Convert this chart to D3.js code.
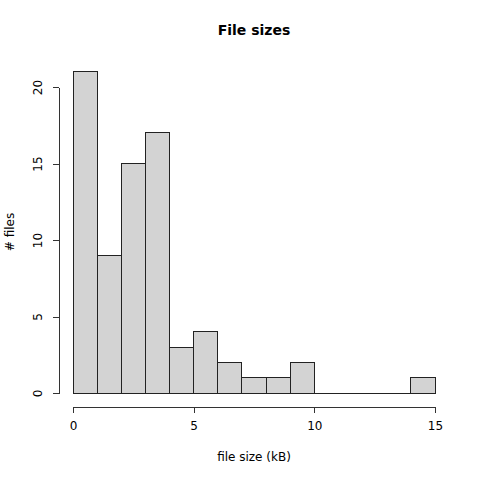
<!DOCTYPE html>
<html><head><meta charset="utf-8">
<script src="https://cdn.jsdelivr.net/npm/d3@7"></script>
<style>body{margin:0;background:#fff}svg{display:block}</style>
</head><body>
<script>
const binStarts = [0,1,2,3,4,5,6,7,8,9,10,11,12,13,14];
const counts = [21,9,15,17,3,4,2,1,1,2,0,0,0,0,1];
const xTicks = [0,5,10,15];
const yTicks = [0,5,10,15,20];
const title = "File sizes";
const xLabel = "file size (kB)";
const yLabel = "# files";

const W=480,H=480;
const svg=d3.select("body").append("svg").attr("width",W).attr("height",H);
const font="DejaVu Sans, sans-serif";
const x=d3.scaleLinear().domain([0,15]).range([73,435]);
const y=d3.scaleLinear().domain([0,20]).range([393,87]);

svg.append("g").selectAll("rect").data(binStarts).join("rect")
  .attr("x",d=>x(d)).attr("width",d=>x(d+1)-x(d))
  .attr("y",(d,i)=>y(counts[i])).attr("height",(d,i)=>y(0)-y(counts[i]))
  .attr("fill","#d3d3d3").attr("stroke","#222").attr("stroke-width",1)
  .attr("shape-rendering","crispEdges");
// zero-height bins drawn as a baseline segment (as R does)
svg.append("g").selectAll("line").data(binStarts.filter((d,i)=>counts[i]===0)).join("line")
  .attr("x1",d=>x(d)).attr("x2",d=>x(d+1)).attr("y1",y(0)).attr("y2",y(0))
  .attr("stroke","#222").attr("stroke-width",1).attr("shape-rendering","crispEdges");

const xa=svg.append("g").attr("transform","translate(0,407)")
  .call(d3.axisBottom(x).tickValues(xTicks).tickSize(6).tickPadding(8).tickSizeOuter(0));
const ya=svg.append("g").attr("transform","translate(59,0)")
  .call(d3.axisLeft(y).tickValues(yTicks).tickSize(6).tickSizeOuter(0).tickFormat(d3.format("d")));
[xa,ya].forEach(a=>{a.selectAll("path,line").attr("stroke","#333").attr("shape-rendering","crispEdges");
  a.selectAll("text").attr("font-family",font).attr("font-size",12).attr("fill","#000");});
ya.selectAll(".tick text").attr("text-anchor","middle").attr("x",0).attr("y",0)
  .attr("transform","translate(-21,0) rotate(-90)").attr("dy","0.32em");

svg.append("text").attr("x",254).attr("y",35).attr("text-anchor","middle")
  .attr("font-family",font).attr("font-weight","bold").attr("font-size",14).text(title);
svg.append("text").attr("x",254).attr("y",461).attr("text-anchor","middle")
  .attr("font-family",font).attr("font-size",12).text(xLabel);
svg.append("text").attr("transform","translate(14,232) rotate(-90)").attr("text-anchor","middle")
  .attr("font-family",font).attr("font-size",12).text(yLabel);
</script>
</body></html>
